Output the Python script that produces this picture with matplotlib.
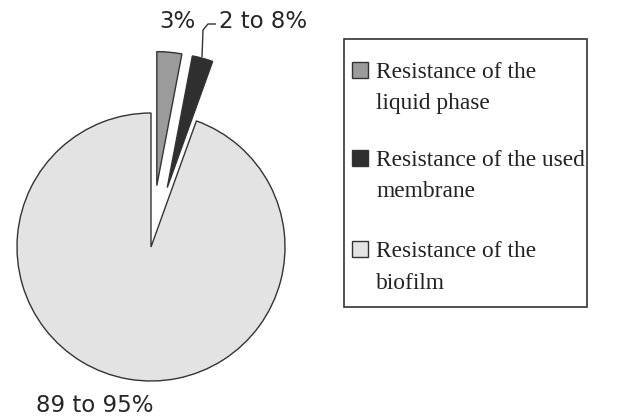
import matplotlib
matplotlib.use("Agg")
import matplotlib.pyplot as plt
from matplotlib.patches import Rectangle

# ---- data ----
categories = ["Resistance of the liquid phase",
              "Resistance of the used membrane",
              "Resistance of the biofilm"]
legend_lines = [["Resistance of the", "liquid phase"],
                ["Resistance of the used", "membrane"],
                ["Resistance of the", "biofilm"]]
values = [3.0, 2.5, 94.5]
value_labels = ["3%", "2 to 8%", "89 to 95%"]

colors = ["#9b9b9b", "#2f2f2f", "#e3e3e3"]
edge = "#333333"

W, H = 642, 417
fig = plt.figure(figsize=(W / 100, H / 100), dpi=100)
fig.patch.set_facecolor("white")

# axes covering the whole figure; 1 data unit = R pixels, pie centre at (cx, cy)
R = 134.0
cx, cy = 151.0, 247.0  # pixels, y from top
ax = fig.add_axes([0, 0, 1, 1])
wedges, _ = ax.pie(values, colors=colors, startangle=90, counterclock=False,
                   explode=[0.46, 0.46, 0.0],
                   wedgeprops=dict(edgecolor=edge, linewidth=1.0))
ax.set_xlim((0 - cx) / R, (W - cx) / R)
ax.set_ylim((cy - H) / R, cy / R)
ax.set_aspect("auto")
ax.axis("off")


def d(px, py):
    """pixel (from top-left) -> data coords"""
    return (px - cx) / R, (cy - py) / R


lab_font = dict(family="DejaVu Sans", fontsize=16.5, color="#262626")
x, y = d(177, 21)
ax.text(x, y, value_labels[0], ha="center", va="center", **lab_font)
x, y = d(219, 21)
ax.text(x, y, value_labels[1], ha="left", va="center", **lab_font)
x, y = d(95, 405)
ax.text(x, y, value_labels[2], ha="center", va="center", **lab_font)

# leader line for membrane label
pts = [d(202, 57), d(203, 30), d(208, 24), d(216, 24)]
ax.plot([p[0] for p in pts], [p[1] for p in pts], color=edge, lw=1.0,
        solid_capstyle="butt")


# ---- legend (drawn in figure pixel coords) ----
def f(px, py):
    return px / W, 1 - py / H


bx0, by0, bx1, by1 = 344, 39, 587, 307
x0, y0 = f(bx0, by1)
fig.add_artist(Rectangle((x0, y0), (bx1 - bx0) / W, (by1 - by0) / H,
                         transform=fig.transFigure, facecolor="white",
                         edgecolor="#333333", linewidth=1.2))

baselines = [77.7, 165.7, 257.3]
line_gap = 31.5
sq = 16
for lines, col, b in zip(legend_lines, colors, baselines):
    sx, sy = f(352, b)
    fig.add_artist(Rectangle((sx, sy), sq / W, sq / H,
                             transform=fig.transFigure, facecolor=col,
                             edgecolor="#333333", linewidth=1.0))
    for i, ln in enumerate(lines):
        tx, ty = f(376, b + i * line_gap)
        fig.text(tx, ty, ln, ha="left", va="baseline",
                 family="Liberation Serif", fontsize=16.8, color="#222222")

fig.savefig("out.png", dpi=100)
